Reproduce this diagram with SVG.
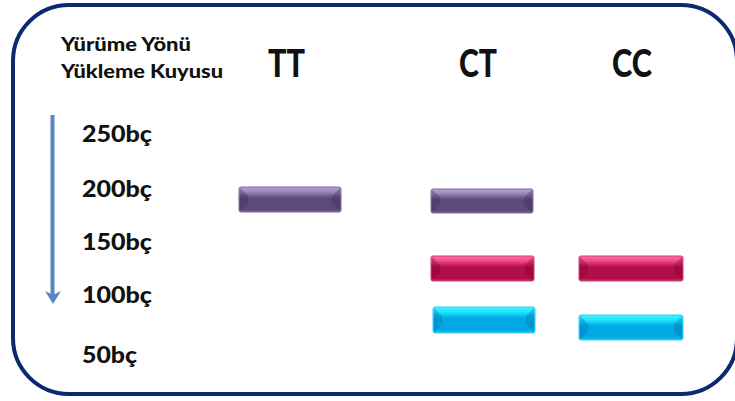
<svg xmlns="http://www.w3.org/2000/svg" width="735" height="401" viewBox="0 0 735 401">
<style>
.t{font-family:Lato,"Liberation Sans",sans-serif;font-weight:900;fill:#111}
.s{font-size:18px}
.h{font-size:37px}
.l{font-size:22px}
.bar{stroke-width:1}
.bev{opacity:0.35}
</style>
<defs>
<linearGradient id="gp" x1="0" y1="0" x2="0" y2="1">
<stop offset="0" stop-color="#b7a3d6"/><stop offset="0.2" stop-color="#9a85bb"/><stop offset="0.38" stop-color="#6b5689"/><stop offset="0.45" stop-color="#5e4a78"/><stop offset="0.9" stop-color="#5e4a78"/><stop offset="1" stop-color="#7c6896"/>
</linearGradient>
<linearGradient id="gr" x1="0" y1="0" x2="0" y2="1">
<stop offset="0" stop-color="#ff6fa2"/><stop offset="0.2" stop-color="#ee4a84"/><stop offset="0.38" stop-color="#c21c58"/><stop offset="0.45" stop-color="#b10f4b"/><stop offset="0.9" stop-color="#b10f4b"/><stop offset="1" stop-color="#cc3468"/>
</linearGradient>
<linearGradient id="gc" x1="0" y1="0" x2="0" y2="1">
<stop offset="0" stop-color="#3ff6ff"/><stop offset="0.2" stop-color="#22e2fb"/><stop offset="0.38" stop-color="#05b6ea"/><stop offset="0.45" stop-color="#00a9e4"/><stop offset="0.9" stop-color="#00a9e4"/><stop offset="1" stop-color="#2cc8f0"/>
</linearGradient>
</defs>
<rect id="frame" x="13" y="5" width="724" height="389" rx="56" ry="56" fill="#fff" stroke="#0b2a6b" stroke-width="4"/>
<g id="title">
<text class="t s" x="61" y="51" textLength="130" lengthAdjust="spacingAndGlyphs">Yürüme Yönü</text>
<text class="t s" x="61" y="78" textLength="162" lengthAdjust="spacingAndGlyphs">Yükleme Kuyusu</text>
</g>
<g id="headers">
<text class="t h" x="268" y="77" textLength="37" lengthAdjust="spacingAndGlyphs">TT</text>
<text class="t h" x="459" y="77" textLength="38" lengthAdjust="spacingAndGlyphs">CT</text>
<text class="t h" x="612" y="77" textLength="40" lengthAdjust="spacingAndGlyphs">CC</text>
</g>
<g id="connectors">
<line x1="52.5" y1="115" x2="52.5" y2="296" stroke="#5a86c2" stroke-width="4"/>
<polygon points="45,291 53,295 61,291 53,304" fill="#5a86c2"/>
</g>
<g id="ladder">
<text class="t l" x="82" y="142" textLength="70" lengthAdjust="spacingAndGlyphs">250bç</text>
<text class="t l" x="82" y="197" textLength="70" lengthAdjust="spacingAndGlyphs">200bç</text>
<text class="t l" x="82" y="250" textLength="70" lengthAdjust="spacingAndGlyphs">150bç</text>
<text class="t l" x="82" y="303" textLength="70" lengthAdjust="spacingAndGlyphs">100bç</text>
<text class="t l" x="82" y="363" textLength="55" lengthAdjust="spacingAndGlyphs">50bç</text>
</g>
<g id="band-TT-200">
<rect class="bar" x="239" y="187" width="102" height="25" rx="2" fill="url(#gp)" stroke="#7d6a98"/>
<path class="bev" d="M240,188 L248,196 L248,204 L240,211 Z M340,188 L332,196 L332,204 L340,211 Z" fill="#3e2c58"/>
</g>
<g id="band-CT-200">
<rect class="bar" x="431" y="189" width="102" height="24" rx="2" fill="url(#gp)" stroke="#7d6a98"/>
<path class="bev" d="M432,190 L440,197 L440,205 L432,212 Z M532,190 L524,197 L524,205 L532,212 Z" fill="#3e2c58"/>
</g>
<g id="band-CT-150">
<rect class="bar" x="431" y="256" width="103" height="25" rx="2" fill="url(#gr)" stroke="#d0386e"/>
<path class="bev" d="M432,257 L440,265 L440,273 L432,280 Z M533,257 L525,265 L525,273 L533,280 Z" fill="#7a0030"/>
</g>
<g id="band-CT-100">
<rect class="bar" x="433" y="307" width="102" height="26" rx="2" fill="url(#gc)" stroke="#2fcff2"/>
<path class="bev" d="M434,308 L442,316 L442,324 L434,332 Z M534,308 L526,316 L526,324 L534,332 Z" fill="#0070b0"/>
</g>
<g id="band-CC-150">
<rect class="bar" x="579" y="256" width="104" height="25" rx="2" fill="url(#gr)" stroke="#d0386e"/>
<path class="bev" d="M580,257 L588,265 L588,273 L580,280 Z M682,257 L674,265 L674,273 L682,280 Z" fill="#7a0030"/>
</g>
<g id="band-CC-100">
<rect class="bar" x="579" y="315" width="104" height="25" rx="2" fill="url(#gc)" stroke="#2fcff2"/>
<path class="bev" d="M580,316 L588,324 L588,332 L580,339 Z M682,316 L674,324 L674,332 L682,339 Z" fill="#0070b0"/>
</g>
</svg>
